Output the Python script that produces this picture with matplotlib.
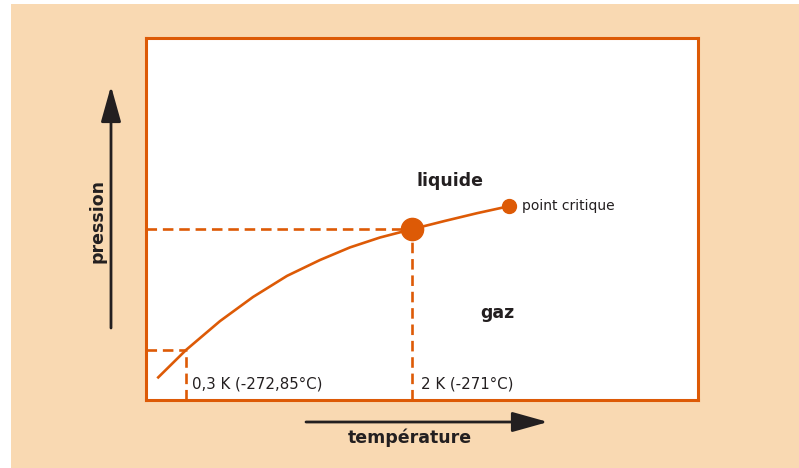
import matplotlib.pyplot as plt
from matplotlib.patches import Rectangle

plt.rcParams['font.family'] = ['DejaVu Sans']

# courbe de vaporisation (unités arbitraires)
temp = [11.8, 40.5, 74.5, 107.5, 141.5, 174.5, 204.5, 234.5, 266.5, 299.5, 331.5, 363.5]
pres = [21.7, 50, 78.9, 103, 124.1, 140, 152.6, 162.5, 170.8, 179.1, 186.8, 193.8]

# points repérés
point_03K = (40.5, 50.5)
point_2K = (266.5, 171)
point_crit = (363.5, 193.8)

label_03K = "0,3 K (-272,85°C)"
label_2K = "2 K (-271°C)"

orange = '#DD5A06'
beige = '#F9D9B2'
dark = '#231F20'

W, H = 799, 468
fig = plt.figure(figsize=(W / 100, H / 100), dpi=100, facecolor='white')

# fond : axes plein cadre en pixels
bg = fig.add_axes([0, 0, 1, 1], zorder=0)
bg.set_xlim(0, W)
bg.set_ylim(H, 0)
bg.axis('off')
bg.add_patch(Rectangle((11, 4), W - 11, H - 4, facecolor=beige, edgecolor='none'))

arrow = dict(arrowstyle='-|>,head_length=1.0,head_width=0.28', color=dark, lw=2,
             mutation_scale=22, shrinkA=0, shrinkB=0)
bg.annotate('', xy=(111, 86), xytext=(111, 328), arrowprops=arrow)
bg.annotate('', xy=(548, 422), xytext=(306, 422), arrowprops=arrow)
bg.text(97, 221, "pression", rotation=90, fontsize=12.5,
        fontweight='bold', color=dark, ha='center', va='center')
bg.text(410, 438, "température", fontsize=12.5,
        fontweight='bold', color=dark, ha='center', va='center')

left, top, right, bottom = 145.5, 38, 698, 400
ax = fig.add_axes([left / W, 1 - bottom / H, (right - left) / W, (bottom - top) / H],
                  zorder=1)
ax.set_facecolor('white')
ax.set_xlim(0, right - left)
ax.set_ylim(0, bottom - top)
ax.set_xticks([])
ax.set_yticks([])
for s in ax.spines.values():
    s.set_color(orange)
    s.set_linewidth(2.2)

dash = (0, (4, 2.2))
for (x, y) in [point_03K, point_2K]:
    ax.plot([0, x], [y, y], color=orange, lw=1.9, linestyle=dash)
    ax.plot([x, x], [0, y], color=orange, lw=1.9, linestyle=dash)

ax.plot(temp, pres, color=orange, lw=1.9, solid_capstyle='butt',
        solid_joinstyle='round')
ax.plot(*point_2K, 'o', color=orange, markersize=16)
ax.plot(*point_crit, 'o', color=orange, markersize=10)

ax.text(point_crit[0] + 13, point_crit[1], "point critique", fontsize=10,
        color=dark, va='center', ha='left')
ax.text(point_2K[0] + 38, 219, "liquide", fontsize=12.5, fontweight='bold',
        color=dark, ha='center', va='center')
ax.text(352, 87, "gaz", fontsize=12.5, fontweight='bold',
        color=dark, ha='center', va='center')
ax.text(point_03K[0] + 6, 16, label_03K, fontsize=10.8, color=dark,
        ha='left', va='center')
ax.text(point_2K[0] + 9, 16, label_2K, fontsize=10.8, color=dark,
        ha='left', va='center')

fig.savefig('out.png', dpi=100, facecolor='white')
